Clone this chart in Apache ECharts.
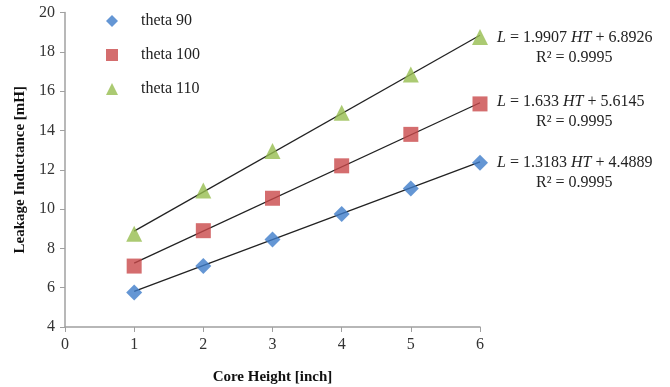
<!DOCTYPE html>
<html>
<head>
<meta charset="utf-8">
<script src="https://cdn.jsdelivr.net/npm/echarts@6/dist/echarts.min.js"></script>
<style>
  html, body { margin: 0; padding: 0; background: #fff; }
  #chart { width: 670px; height: 387px; }
</style>
</head>
<body>
<div id="chart"></div>
<script>
var xValues = [1, 2, 3, 4, 5, 6];
var theta90 = [5.75, 7.1, 8.45, 9.75, 11.05, 12.35];
var theta100 = [7.1, 8.9, 10.55, 12.2, 13.8, 15.35];
var theta110 = [8.75, 10.95, 12.95, 14.9, 16.85, 18.75];
// trend line ends at x = 1 and x = 6
var trendX = [1, 6];
var trend90 = [5.81, 12.40];
var trend100 = [7.25, 15.41];
var trend110 = [8.88, 18.84];
var seriesNames = ["theta 90", "theta 100", "theta 110"];
var equations = [
    ["1.9907", "6.8926", "0.9995"],
    ["1.633", "5.6145", "0.9995"],
    ["1.3183", "4.4889", "0.9995"]
];

var serif = "Liberation Serif";
var chart = echarts.init(document.getElementById("chart"));

function pairs(xs, ys) {
    var out = [];
    for (var i = 0; i < xs.length; i++) {
        out.push([xs[i], ys[i]]);
    }
    return out;
}

function trendSeries(ys) {
    return {
        type: "line",
        data: pairs(trendX, ys),
        symbol: "none",
        silent: true,
        z: 1,
        lineStyle: { color: "#222", width: 1.3 }
    };
}

// equation labels on the right
var eqY = [39, 103, 164];
var graphics = [];
for (var i = 0; i < equations.length; i++) {
    graphics.push({
        type: "text",
        left: 497,
        top: eqY[i] - 9,
        style: {
            text: "{i|L} = " + equations[i][0] + " {i|HT} + " + equations[i][1],
            font: "16px " + serif,
            fill: "#222",
            rich: {
                i: { fontFamily: serif, fontSize: 16, fontStyle: "italic", color: "#222" }
            }
        }
    });
    graphics.push({
        type: "text",
        left: 536,
        top: eqY[i] + 11,
        style: {
            text: "R\u00b2 = " + equations[i][2],
            font: "16px " + serif,
            fill: "#222"
        }
    });
}

chart.setOption({
    animation: false,
    grid: { left: 65, right: 190, top: 12.5, bottom: 60, outerBoundsMode: "none" },
    legend: {
        orient: "vertical",
        left: 101,
        top: 8,
        itemGap: 18,
        itemWidth: 12,
        itemHeight: 12,
        data: seriesNames,
        textStyle: { fontFamily: serif, fontSize: 16, color: "#222", padding: [0, 0, 0, 18] }
    },
    xAxis: {
        type: "value",
        min: 0,
        max: 6,
        interval: 1,
        name: "Core Height [inch]",
        nameLocation: "middle",
        nameGap: 43,
        nameTextStyle: { fontFamily: serif, fontSize: 15, fontWeight: "bold", color: "#111" },
        axisLine: { lineStyle: { color: "#a0a0a0", width: 1.5 } },
        axisTick: { show: true, length: 5, lineStyle: { color: "#a0a0a0" } },
        axisLabel: { fontFamily: serif, fontSize: 16, color: "#333", margin: 10 },
        splitLine: { show: false }
    },
    yAxis: {
        type: "value",
        min: 4,
        max: 20,
        interval: 2,
        name: "Leakage Inductance [mH]",
        nameLocation: "middle",
        nameGap: 37,
        nameTextStyle: { fontFamily: serif, fontSize: 15, fontWeight: "bold", color: "#111" },
        axisLine: { show: true, lineStyle: { color: "#a0a0a0", width: 1.5 } },
        axisTick: { show: true, length: 5, lineStyle: { color: "#a0a0a0" } },
        axisLabel: { fontFamily: serif, fontSize: 16, color: "#333", margin: 10 },
        splitLine: { show: false }
    },
    graphic: graphics,
    series: [
        {
            name: seriesNames[0],
            type: "scatter",
            symbol: "diamond",
            symbolSize: 16,
            z: 3,
            itemStyle: { color: "#3d7cc9" },
            data: pairs(xValues, theta90)
        },
        {
            name: seriesNames[1],
            type: "scatter",
            symbol: "rect",
            symbolSize: 15,
            z: 3,
            itemStyle: { color: "#c9494a" },
            data: pairs(xValues, theta100)
        },
        {
            name: seriesNames[2],
            type: "scatter",
            symbol: "triangle",
            symbolSize: 16,
            z: 3,
            itemStyle: { color: "#96bd4f" },
            data: pairs(xValues, theta110)
        },
        trendSeries(trend90),
        trendSeries(trend100),
        trendSeries(trend110)
    ]
});
</script>
</body>
</html>
